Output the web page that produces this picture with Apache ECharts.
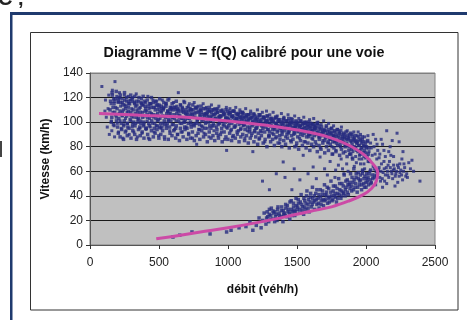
<!DOCTYPE html>
<html><head><meta charset="utf-8">
<script src="https://cdn.jsdelivr.net/npm/echarts@6/dist/echarts.min.js"></script>
<style>html,body{margin:0;padding:0;background:#fff}#c{width:467px;height:320px}</style>
</head><body><div id="c"></div>
<script>
const chartTitle = 'Diagramme V = f(Q) calibré pour une voie';
const xName = 'débit (véh/h)';
const yName = 'Vitesse (km/h)';
const xTicks = [0, 500, 1000, 1500, 2000, 2500];
const yTicks = [0, 20, 40, 60, 80, 100, 120, 140];

// Free-flow (uncongested) observations [Q, V]
const freeFlow = [
[86,129],[112,118],[118,104],[125,96],[131,111],[136,122],[140,90],[108,109],
[152,115],[155,101],[158,93],[162,126],[166,108],[171,119],[175,97],[178,88],[181,133],[186,112],[190,104],[194,121],[198,99],
[203,116],[207,92],[211,107],[214,124],[218,101],[222,113],[226,95],[231,119],[235,105],[238,87],[242,110],[246,98],[249,122],
[253,114],[257,103],[261,93],[265,117],[268,108],[272,99],[276,121],[280,112],[284,90],[288,106],[292,118],[296,101],
[302,111],[306,96],[309,120],[313,104],[318,92],[322,115],[326,107],[331,99],[335,123],[339,110],[343,88],[347,102],
[352,117],[356,106],[361,95],[365,112],[369,101],[373,119],[377,91],[382,108],[386,114],[391,98],[395,105],
[402,116],[406,94],[410,109],[415,101],[419,121],[423,87],[428,111],[432,103],[437,96],[441,115],[446,107],
[452,99],[456,118],[461,104],[465,92],[470,112],[474,106],[479,97],[483,117],[488,101],[493,110],[497,89],
[503,114],[508,103],[513,95],[518,108],[524,118],[529,99],[534,111],[540,86],[545,105],[551,115],[556,97],[562,109],[567,101],[573,119],[578,93],[584,107],[589,112],[595,98],
[601,104],[606,116],[612,94],[618,110],[623,101],[629,113],[635,90],[640,124],[646,106],[652,99],[657,114],[663,103],[669,92],[674,109],[680,117],[686,100],[691,107],[697,96],
[703,112],[709,103],[714,91],[720,115],[726,106],[732,98],[737,110],[743,87],[749,104],[755,116],[760,99],[766,108],[773,82],[778,101],[784,113],[790,94],[796,106],
[802,110],[808,97],[814,103],[820,115],[826,91],[832,107],[838,100],[844,112],[850,95],[856,105],[862,88],[868,109],[874,101],[880,114],[886,97],[892,106],[898,93],
[904,111],[910,102],[916,96],[922,108],[928,89],[934,113],[940,100],[946,105],[952,92],[958,110],[964,98],[970,106],[976,86],[982,103],[988,112],[990,77],[995,95],
[1002,107],[1008,99],[1014,111],[1020,93],[1026,104],[1032,88],[1038,109],[1044,101],[1050,96],[1056,112],[1062,103],[1068,90],[1074,106],[1080,98],[1086,110],[1092,94],[1098,102],
[1104,108],[1110,97],[1116,104],[1122,87],[1128,111],[1134,100],[1140,93],[1146,106],[1152,102],[1158,96],[1164,109],[1170,89],[1176,104],[1180,76],[1182,98],[1188,107],[1194,92],
[1201,103],[1207,95],[1213,110],[1219,99],[1225,86],[1231,105],[1237,101],[1243,92],[1249,108],[1255,97],[1261,104],[1267,84],[1273,100],[1279,109],[1285,94],[1291,102],[1297,89],
[1303,106],[1309,97],[1315,101],[1321,91],[1327,108],[1333,95],[1339,103],[1345,87],[1351,99],[1357,105],[1363,93],[1369,101],[1375,83],[1381,97],[1387,107],[1393,92],[1399,100],
[1405,104],[1411,95],[1417,88],[1423,101],[1429,97],[1435,106],[1441,91],[1447,99],[1453,85],[1459,103],[1465,94],[1471,100],[1477,90],[1483,105],[1489,96],[1495,81],
[1501,99],[1507,92],[1513,103],[1519,87],[1525,97],[1531,101],[1537,94],[1543,89],[1549,104],[1555,96],[1561,84],[1567,100],[1573,92],[1579,98],[1585,88],[1591,102],[1597,95],
[1603,90],[1609,99],[1615,86],[1621,103],[1627,94],[1633,97],[1639,82],[1645,92],[1651,100],[1657,88],[1663,95],[1669,79],[1675,98],[1681,91],[1687,85],[1693,101],[1699,93],
[1705,87],[1711,96],[1717,90],[1723,83],[1729,99],[1735,92],[1741,86],[1747,95],[1753,80],[1759,89],[1765,97],[1771,84],[1777,92],[1783,77],[1789,88],[1795,94],
[1801,85],[1808,91],[1815,80],[1822,96],[1829,87],[1836,83],[1843,90],[1850,76],[1857,86],[1864,93],[1871,81],[1878,88],[1885,74],[1892,84],[1899,90],
[1908,79],[1916,87],[1925,72],[1934,83],[1943,92],[1952,77],[1961,85],[1970,70],[1980,81],[1990,88],[2000,75],[2012,84],[2025,69],[2038,79],[2052,90],[2066,74],[2080,82],[2095,71],[2110,86],[2130,77],[2150,93],[2175,80],[2200,72],[2225,91],[2268,76],[2240,84],
[1905,76],[1912,92],[1920,84],[1928,77],[1936,89],[1944,81],[1953,73],[1960,90],[1968,79],[1975,86],[1985,72],[1993,84],[2005,79],[2014,89],[2022,76],[2033,83],[2045,73],[2058,80],[2070,86],[2085,77],[2100,74],[2120,82],[2140,72],[2165,76],[2190,85]
];

// Dense core of the free-flow band [Q, V]
const freeFlowCore = [
[145,110],[149,117],[154,100],[158,104],[162,122],[167,112],[170,98],[174,115],[179,108],[183,119],[187,106],[192,101],[196,111],[200,96],[205,117],
[209,103],[213,120],[218,109],[222,116],[226,99],[231,106],[235,108],[239,114],[244,97],[248,101],[252,118],[257,111],[261,113],[265,105],[270,99],
[274,96],[278,109],[283,117],[287,115],[291,102],[296,108],[300,105],[304,119],[309,98],[313,110],[317,100],[322,116],[326,97],[330,113],[335,104],
[339,117],[343,108],[348,100],[352,103],[356,111],[361,96],[365,108],[369,99],[374,115],[378,114],[382,104],[387,97],[391,100],[395,117],[400,109],
[404,111],[408,95],[413,106],[417,104],[421,113],[426,99],[430,97],[434,108],[439,115],[443,112],[447,101],[452,105],[456,106],[460,116],[465,95],
[469,99],[473,110],[478,103],[482,114],[486,97],[491,107],[495,102],[499,112],[504,96],[508,109],[512,99],[517,113],[521,96],[525,105],[530,110],
[534,112],[538,101],[543,98],[547,104],[551,115],[556,107],[560,99],[564,109],[569,102],[573,107],[577,96],[582,112],[586,101],[590,111],[595,104],
[599,110],[603,98],[608,106],[612,103],[616,112],[621,95],[625,97],[629,107],[634,110],[638,111],[642,101],[647,104],[651,105],[655,95],[660,109],
[664,99],[668,112],[673,103],[677,108],[681,100],[686,96],[690,102],[694,110],[699,105],[703,95],[707,106],[712,99],[716,109],[720,103],[725,111],
[729,100],[733,96],[738,107],[742,106],[746,110],[751,98],[755,97],[759,104],[764,112],[768,111],[772,99],[777,102],[781,103],[785,108],[790,94],
[794,98],[798,105],[803,110],[807,108],[811,101],[816,96],[820,102],[824,111],[829,105],[833,95],[837,99],[842,107],[846,106],[850,103],[855,110],
[859,100],[863,109],[868,97],[872,104],[876,95],[881,108],[885,110],[889,102],[894,99],[898,97],[902,106],[907,103],[911,103],[915,110],[920,94],
[924,108],[928,98],[933,104],[937,99],[941,105],[946,109],[950,105],[954,95],[959,101],[963,101],[967,108],[972,97],[976,107],[980,100],[985,104],
[989,96],[993,103],[998,109],[1002,102],[1006,97],[1011,106],[1015,108],[1019,101],[1024,94],[1028,99],[1032,105],[1037,109],[1041,104],[1045,96],[1050,101],
[1054,97],[1058,107],[1063,103],[1067,106],[1071,100],[1076,93],[1080,101],[1084,104],[1089,108],[1093,95],[1097,99],[1102,105],[1106,103],[1110,107],[1115,98],
[1119,98],[1123,94],[1128,104],[1132,105],[1136,101],[1141,96],[1145,100],[1149,106],[1154,92],[1158,94],[1162,103],[1167,99],[1171,104],[1175,97],[1180,101],
[1184,99],[1188,106],[1193,93],[1197,102],[1201,95],[1206,100],[1210,96],[1214,104],[1219,91],[1223,101],[1227,98],[1232,106],[1236,93],[1240,102],[1245,97],
[1249,99],[1253,95],[1258,104],[1262,103],[1266,92],[1271,98],[1275,96],[1279,101],[1284,105],[1288,100],[1292,94],[1297,89],[1301,92],[1305,99],[1310,103],
[1314,97],[1318,102],[1323,94],[1327,101],[1331,90],[1336,96],[1340,94],[1344,99],[1349,104],[1353,98],[1357,92],[1362,101],[1366,102],[1370,96],[1375,89],
[1379,95],[1383,100],[1388,93],[1392,90],[1396,97],[1401,102],[1405,99],[1409,93],[1414,96],[1418,95],[1422,101],[1427,90],[1431,98],[1435,92],[1440,103],
[1444,93],[1448,97],[1453,100],[1457,100],[1461,89],[1466,95],[1470,96],[1474,99],[1479,92],[1483,91],[1487,97],[1492,101],[1496,98],[1500,94],[1505,88],
[1509,93],[1513,100],[1518,96],[1522,97],[1526,90],[1531,94],[1535,92],[1539,98],[1544,99],[1548,95],[1552,91],[1557,100],[1561,99],[1565,93],[1570,88],
[1574,94],[1578,97],[1583,90],[1587,90],[1591,96],[1596,99],[1600,97],[1604,92],[1609,87],[1613,93],[1617,95],[1622,98],[1626,89],[1630,96],[1635,91],
[1639,95],[1643,90],[1648,99],[1652,92],[1656,97],[1661,86],[1665,88],[1669,94],[1674,91],[1678,96],[1682,89],[1687,93],[1691,91],[1695,94],[1700,85],
[1704,93],[1708,88],[1713,97],[1717,89],[1721,92],[1726,84],[1730,94],[1734,87],[1739,90],[1743,86],[1747,91],[1752,95],[1756,92],[1760,84],[1765,89],
[1769,88],[1773,93],[1778,85],[1782,90],[1786,83],[1791,94],[1795,85],[1799,89],[1804,92],[1808,87],[1812,82],[1817,93],[1821,90],[1825,85],[1830,88],
[1834,84],[1838,91],[1843,87],[1847,88],[1851,81],[1856,92],[1860,83],[1864,89],[1869,86],[1873,87],[1877,80],[1882,90],[1886,85],[1890,91],[1895,78],
[1899,82],[1903,88],[1908,85],[1912,86],[1916,80],[1921,89],[1925,79],[1929,85],[1934,83],[1938,84],[1942,76],[1947,88],[1951,81],[1955,86],[1960,74],
[1964,78],[1968,83],[1973,88],[1977,84],[1981,75],[1986,80],[1990,77],[1994,82],[1999,71],[2003,80],[2007,72],[2012,85],[2016,74],[2020,79],[2025,68]
];

// Lower edge of the free-flow band [Q, V]
const freeFlowLower = [
[205,91],[218,88],[230,94],[243,86],[256,92],[270,89],[283,95],[297,87],[310,93],[324,90],[337,86],[351,94],[364,89],[378,92],[391,87],[405,95],[418,90],[432,86],[445,93],[459,88],
[472,91],[486,94],[499,87],[513,90],[526,93],[540,88],[553,95],[567,86],[580,91],[594,89],[607,93],[621,87],[634,90],[648,85],[661,92],[675,88],[688,94],[702,86],[715,90],[729,87],
[742,92],[756,85],[769,89],[783,91],[796,86],[810,93],[823,88],[837,90],[850,84],[864,92],[877,87],[891,89],[904,85],[918,91],[931,87],[945,90],[958,84],[972,92],[985,88],[999,86],
[1012,91],[1026,85],[1039,89],[1053,87],[1066,92],[1080,84],[1093,88],[1107,90],[1120,85],[1134,89],[1147,83],[1161,87],[1174,91],[1188,84],[1201,88],[1215,82],[1228,87],[1242,89],[1255,83],[1269,86],
[1282,80],[1296,88],[1309,84],[1323,86],[1336,81],[1350,88],[1363,83],[1377,86],[1390,80],[1404,85],[1417,82],[1431,87],[1444,79],[1458,84],[1471,86],[1485,80],[1498,83],[1512,78],[1525,85],[1539,81],
[1552,84],[1566,79],[1579,83],[1593,77],[1606,82],[1620,80],[1633,84],[1647,76],[1660,81],[1674,78],[1687,83],[1701,75],[1714,80],[1728,77],[1741,82],[1755,74],[1768,79],[1782,76],[1795,81],[1809,73],
[1822,78],[1836,75],[1849,80],[1863,72],[1876,77],[1890,74],[1903,70]
];

// Upper edge of the free-flow band [Q, V]
const freeFlowUpper = [
[160,124],[175,117],[190,125],[205,119],[220,122],[235,116],[250,124],[265,120],[280,115],[295,122],[310,117],[325,121],[340,114],[355,120],[370,116],[385,121],[400,113],[415,118],[430,115],[445,120],
[460,112],[475,117],[490,114],[505,119],[520,111],[535,116],[550,113],[565,118],[580,110],[595,115],[610,112],[625,117],[640,109],[655,114],[670,111],[685,116],[700,108],[715,113],[730,110],[745,114],
[760,107],[775,112],[790,109],[805,113],[820,106],[835,111],[850,108],[865,112],[880,105],[895,110],[910,107],[925,111],[940,104],[955,109],[970,106],[985,110],[1000,103],[1015,108],[1030,105],[1045,109],
[1060,102],[1075,107],[1090,104],[1105,108],[1120,101],[1135,106],[1150,103],[1165,107],[1180,100],[1195,105],[1210,102],[1225,106],[1240,99],[1255,104],[1270,101],[1285,105],[1300,98],[1315,103],[1330,100],[1345,104],
[1360,97],[1375,102],[1390,99],[1405,103],[1420,96],[1435,101],[1450,98],[1465,102],[1480,95],[1495,100],[1510,97],[1525,101],[1540,94],[1555,99],[1570,96],[1585,100],[1600,93],[1615,98],[1630,95],[1645,99]
];

// Capacity region (nose of the curve)
const capacity = [
[1960,66],[1975,58],[1990,62],[2005,54],[2015,68],[2028,60],[2040,51],[2052,64],[2065,57],[2078,70],[2090,61],[2100,55],[2112,66],[2124,59],[2135,52],[2147,63],[2158,57],[2170,68],[2182,60],[2193,54],[2205,62],[2216,58],[2228,65],[2240,56],[2252,61],[2265,53],[2280,63],[2295,58],[2310,67],[2333,69],[2345,60],[2391,52],[2210,48],[2180,73],[2120,47],[2260,70],[2300,55],[2150,50],[2070,49],[2230,51],
[2085,58],[2095,63],[2108,60],[2118,54],[2132,62],[2140,57],[2155,60],[2165,55],[2176,63],[2188,58],[2198,61],[2212,56],[2222,60],[2235,63],[2246,59],[2258,57],[2272,60],[2288,56],[2245,66],[2200,65],[2160,65],[2130,68],[2105,52],[2322,62],[2275,66]
];

// Congested observations
const congested = [
[1252,20],[1262,26],[1275,17],[1288,23],[1300,29],[1312,21],[1326,27.7],[1338,19],[1350,25],[1362,31],[1375,22],[1388,28],[1398,19],
[1408,26],[1418,33],[1428,23],[1438,29],[1448,21],[1458,36],[1466,27],[1475,31],[1484,24],[1493,38],[1500,29],[1510,34],[1520,26],[1530,41],[1540,31],[1548,25],
[1556,36],[1564,29],[1572,44],[1580,33],[1588,27],[1596,39],[1604,31],[1612,47],[1620,35],[1628,29],[1636,42],[1644,33],[1652,38],[1660,30],[1668,45],[1676,36],[1684,41],[1692,32],[1699,49],
[1706,37],[1714,43],[1722,34],[1730,46],[1738,39],[1746,52],[1754,36],[1762,44],[1770,40],[1778,48],[1786,35],[1794,42],[1802,54],[1810,45],[1818,38],[1826,50],[1834,43],[1842,57],[1849,40],
[1856,47],[1864,53],[1872,41],[1880,49],[1888,58],[1896,44],[1904,51],[1912,62],[1920,47],[1928,55],[1936,43],[1944,59],[1952,49],[1960,53],[1968,45],[1976,61],[1984,50],[1992,56],[2000,47],[2010,52],[2022,58],[2035,50],
[601,6.5],[650,8],[739,10.6],[870,9],[990,10.6],[1022,12],[1080,14],[1130,15],[1159,18.7],[1180,12],[1205,16],[1225,22],[1240,14],
[1280,22],[1284,27],[1295,19],[1299,25],[1310,24],[1314,30],[1325,21],[1329,26],[1340,27],[1344,23],[1355,20],[1359,29],[1370,26],[1374,24],[1385,23],[1389,31],
[1400,28],[1404,25],[1415,24],[1419,30],[1430,32],[1434,27],[1445,26],[1449,35],[1460,29],[1464,24],[1475,34],[1479,28],[1490,27],[1494,32],[1505,31],[1509,37],
[1520,29],[1524,35],[1535,33],[1539,28],[1550,38],[1554,31],[1565,34],[1569,40],[1580,30],[1584,37],[1595,35],[1599,42],[1610,33],[1614,38],[1625,40],[1629,36],
[1640,37],[1644,45],[1655,34],[1659,41],[1670,39],[1674,33],[1685,44],[1689,37],[1700,36],[1704,41],[1715,40],[1719,47],[1730,38],[1734,35],[1745,43],[1749,40],
[1760,37],[1764,48],[1775,42],[1779,39],[1790,46],[1794,38],[1805,41],[1809,50],[1820,44],[1824,40],[1835,48],[1839,42],[1850,45],[1854,52],[1865,43],[1869,49],
[1880,51],[1884,46],[1895,48],[1899,55],[1910,45],[1914,53],[1925,50],[1929,58],[1940,47],[1944,54],[1955,52],[1959,57],[1970,49],[1974,60],[1985,54],[1989,47],
[2000,51],[2004,58],[2015,55],[2019,49],[2030,53],[2034,61],[2045,57],[2049,54],[2060,55],[2064,62],[2075,60],[2079,56]
];

// Scattered transition observations
const transition = [
[1400,67.6],[1463,45],[1521,53],[1617,63.5],[1545,73],[1667,71.6],[1300,45],[1350,58],[1580,58],[1700,62],[1740,68],[1780,61],[1820,70],[1860,66],[1900,71],[1640,54],[1720,57],[1480,62],[1250,52],[1760,74],[1830,62],[1880,74],[1930,67],[1800,65],[1413,55],
[1870,60],[1915,64],[1950,70],[1985,66],[1840,58],[1775,55]
];

// Calibrated V = f(Q) curve
const curveQ = [65,200,400,600,800,1000,1200,1400,1600,1750,1880,1980,2050,2085,2075,2040,1980,1880,1750,1600,1400,1200,1000,800,600,480];
const curveV = [107,106.5,105.5,104.5,103,101,98.5,95.5,91.5,87,81,74,66,59,52,46,41,36,31,27.5,22.5,18,14,10.5,7,5];

const chart = echarts.init(document.getElementById('c'), null, {renderer:'canvas'});
const font = "'Liberation Sans', Arial, sans-serif";
function dots(data, size) {
  return {type:'scatter', data:data, symbol:'rect', symbolSize:size, itemStyle:{color:'#262a80'}, silent:true, animation:false};
}
chart.setOption({
  animation:false,
  backgroundColor:'#ffffff',
  grid:{left:90, top:73, right:32, bottom:75, show:true, backgroundColor:'#c0c0c0', borderColor:'#808080', borderWidth:1},
  xAxis:{type:'value', min:xTicks[0], max:xTicks[xTicks.length-1], interval:500,
    name:xName, nameLocation:'middle', nameGap:39,
    nameTextStyle:{fontFamily:font, fontWeight:'bold', fontSize:12, color:'#111'},
    axisLine:{lineStyle:{color:'#555'}}, axisTick:{show:true, length:4, lineStyle:{color:'#333'}},
    axisLabel:{fontFamily:font, fontSize:12, color:'#222', margin:12, formatter:v=>String(v)}, splitLine:{show:false}},
  yAxis:{type:'value', min:yTicks[0], max:yTicks[yTicks.length-1], interval:20,
    name:yName, nameLocation:'middle', nameGap:34,
    nameTextStyle:{fontFamily:font, fontWeight:'bold', fontSize:12, color:'#111'},
    axisLine:{show:true, lineStyle:{color:'#555'}}, axisTick:{show:true, length:4, lineStyle:{color:'#333'}},
    axisLabel:{fontFamily:font, fontSize:12, color:'#222', margin:7, formatter:v=>String(v)},
    splitLine:{show:true, lineStyle:{color:['#808080','#1a1a1a','#1a1a1a','#1a1a1a','#1a1a1a','#1a1a1a','#1a1a1a','#808080'], width:1}}},
  graphic:[
    {type:'rect', shape:{x:10, y:12, width:460, height:3}, style:{fill:'#1f3a6e'}},
    {type:'rect', shape:{x:10, y:12, width:2.5, height:310}, style:{fill:'#1f3a6e'}},
    {type:'rect', shape:{x:30.5, y:32.5, width:427.5, height:277.5}, style:{fill:'none', stroke:'#333', lineWidth:1}, z:-1},
    {type:'text', x:-2, y:-11, style:{text:'C ,', font:"bold 20px "+font, fill:'#222'}},
    {type:'rect', shape:{x:0, y:141, width:2, height:16}, style:{fill:'#444'}},
    {type:'text', x:244, y:53, style:{text:chartTitle, font:"bold 14.3px "+font, fill:'#111', textAlign:'center', textVerticalAlign:'middle'}}
  ],
  series:[
    dots(freeFlow, 3),
    dots(freeFlowCore, 3.5),
    dots(freeFlowLower, 3.5),
    dots(freeFlowUpper, 3.5),
    dots(capacity, 3),
    dots(congested, 3.5),
    dots(transition, 3),
    {type:'line', data:curveQ.map((q,i)=>[q,curveV[i]]), smooth:0.4, symbol:'none',
     lineStyle:{color:'#cc4aa6', width:3}, z:5, silent:true}
  ]
});
</script></body></html>
